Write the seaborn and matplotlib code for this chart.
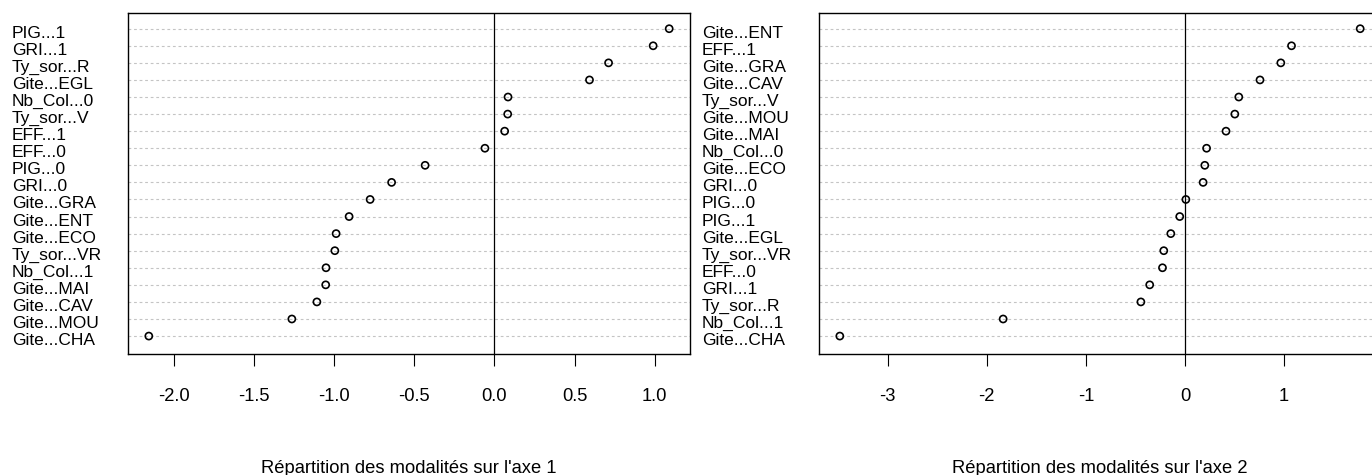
import numpy as np
import pandas as pd
import matplotlib
matplotlib.use("Agg")
import matplotlib.pyplot as plt
import matplotlib.transforms as mtransforms
import seaborn as sns

# ---------------- data ----------------
labels_axe1 = ["PIG...1", "GRI...1", "Ty_sor...R", "Gite...EGL", "Nb_Col...0",
               "Ty_sor...V", "EFF...1", "EFF...0", "PIG...0", "GRI...0",
               "Gite...GRA", "Gite...ENT", "Gite...ECO", "Ty_sor...VR",
               "Nb_Col...1", "Gite...MAI", "Gite...CAV", "Gite...MOU", "Gite...CHA"]
values_axe1 = [1.090, 0.990, 0.712, 0.593, 0.085,
               0.083, 0.064, -0.059, -0.432, -0.641,
               -0.775, -0.906, -0.987, -0.995,
               -1.050, -1.052, -1.107, -1.263, -2.155]

labels_axe2 = ["Gite...ENT", "EFF...1", "Gite...GRA", "Gite...CAV", "Ty_sor...V",
               "Gite...MOU", "Gite...MAI", "Nb_Col...0", "Gite...ECO", "GRI...0",
               "PIG...0", "PIG...1", "Gite...EGL", "Ty_sor...VR", "EFF...0",
               "GRI...1", "Ty_sor...R", "Nb_Col...1", "Gite...CHA"]
values_axe2 = [1.768, 1.075, 0.967, 0.757, 0.543,
               0.503, 0.414, 0.218, 0.200, 0.183,
               0.009, -0.053, -0.143, -0.214, -0.227,
               -0.356, -0.445, -1.835, -3.483]

ticks_axe1 = [-2.0, -1.5, -1.0, -0.5, 0.0, 0.5, 1.0]
ticklabels_axe1 = ["-2.0", "-1.5", "-1.0", "-0.5", "0.0", "0.5", "1.0"]
ticks_axe2 = [-3, -2, -1, 0, 1]
ticklabels_axe2 = ["-3", "-2", "-1", "0", "1"]

title_axe1 = "Répartition des modalités sur l'axe 1"
title_axe2 = "Répartition des modalités sur l'axe 2"

# ---------------- style ----------------
sns.set_style("white")
plt.rcParams["font.family"] = ["Liberation Sans", "DejaVu Sans"]
plt.rcParams["axes.unicode_minus"] = False

W, H, DPI = 13.72, 4.75, 100
fig = plt.figure(figsize=(W, H), dpi=DPI)


def px_axes(l, t, r, b):
    return fig.add_axes([l / 1372, (475 - b) / 475, (r - l) / 1372, (b - t) / 475])


ax1 = px_axes(128, 13, 690, 354)
ax2 = px_axes(819, 13, 1381, 354)

label_offset = mtransforms.ScaledTranslation(0, -9 / DPI, fig.dpi_scale_trans)


def dotpanel(ax, labels, values, ticks, ticklabels, xlabel, label_left_px):
    n = len(labels)
    df = pd.DataFrame({"modalite": labels, "coord": values,
                       "rang": np.arange(n, 0, -1)})
    sns.scatterplot(data=df, x="coord", y="rang", ax=ax, marker="o", s=26,
                    legend=False, zorder=3)
    coll = ax.collections[-1]
    coll.set_facecolor("none")
    coll.set_edgecolor("black")
    coll.set_linewidth(1.2)

    lo, hi = min(values), max(values)
    pad = 0.04 * (hi - lo)
    ax.set_xlim(lo - pad, hi + pad)
    ax.set_ylim(-0.05, n + 0.92)

    ax.set_yticks(df["rang"])
    ax.set_yticklabels(df["modalite"])
    ax.yaxis.grid(True, linestyle=(0, (2.5, 2.5)), color="#c4c4c4", linewidth=0.8)
    ax.xaxis.grid(False)
    ax.set_axisbelow(True)
    ax.axvline(0, color="black", lw=0.9, zorder=2)

    ax.set_xticks(ticks)
    ax.set_xticklabels(ticklabels)

    bbox = ax.get_position()
    left_px = bbox.x0 * 1372
    pad_pt = (left_px - label_left_px) * 72 / DPI
    ax.tick_params(axis="y", left=False, length=0, pad=pad_pt, labelsize=12.5,
                   labelcolor="black")
    ax.tick_params(axis="x", bottom=True, length=8.6, width=0.8, pad=15.8,
                   labelsize=13.2, direction="out", color="black",
                   labelcolor="black")
    for lbl in ax.get_yticklabels():
        lbl.set_horizontalalignment("left")
        lbl.set_verticalalignment("baseline")
        lbl.set_transform(lbl.get_transform() + label_offset)

    for sp in ax.spines.values():
        sp.set_visible(True)
        sp.set_color("black")
        sp.set_linewidth(1.0)

    ax.set_xlabel(xlabel, fontsize=13.2, labelpad=40, color="black")
    ax.set_ylabel("")


dotpanel(ax1, labels_axe1, values_axe1, ticks_axe1, ticklabels_axe1, title_axe1, 12)
dotpanel(ax2, labels_axe2, values_axe2, ticks_axe2, ticklabels_axe2, title_axe2, 702)

fig.savefig("out.png", dpi=DPI)
